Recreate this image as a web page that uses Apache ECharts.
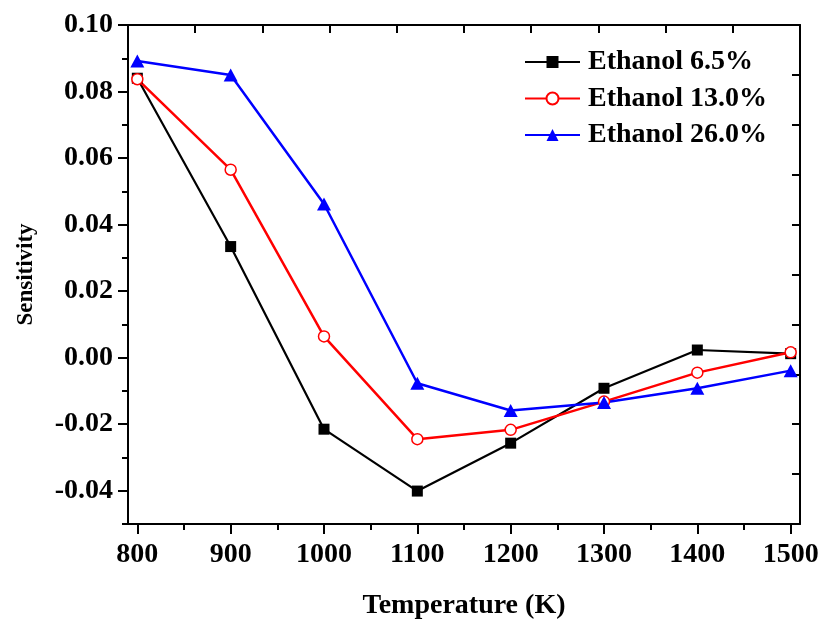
<!DOCTYPE html>
<html>
<head>
<meta charset="utf-8">
<script src="https://cdn.jsdelivr.net/npm/echarts@6/dist/echarts.min.js"></script>
<style>html,body{margin:0;padding:0;background:#fff}#c{width:824px;height:620px}</style>
</head>
<body>
<div id="c"></div>
<script>
const temperatures = [800, 900, 1000, 1100, 1200, 1300, 1400, 1500];
const ethanol65 = [0.0840, 0.0334, -0.0215, -0.0401, -0.0257, -0.0092, 0.0023, 0.0012];
const ethanol130 = [0.0837, 0.0565, 0.0064, -0.0245, -0.0217, -0.0132, -0.0045, 0.0016];
const ethanol260 = [0.0892, 0.0850, 0.0462, -0.0077, -0.0159, -0.0135, -0.0092, -0.0039];
const seriesNames = ['Ethanol 6.5%', 'Ethanol 13.0%', 'Ethanol 26.0%'];
const xMajorTicks = [800, 900, 1000, 1100, 1200, 1300, 1400, 1500];
const xMinorTicks = [850, 950, 1050, 1150, 1250, 1350, 1450];
const yMajorTicks = [-0.04, -0.02, 0.00, 0.02, 0.04, 0.06, 0.08, 0.10];
const yMinorTicks = [-0.05, -0.03, -0.01, 0.01, 0.03, 0.05, 0.07, 0.09];

const FONT = "'Liberation Serif', 'Times New Roman', serif";
const pair = (xs, ys) => xs.map((x, i) => [x, ys[i]]);

const chart = echarts.init(document.getElementById('c'), null, {renderer: 'canvas'});
chart.setOption({
  animation: false,
  backgroundColor: '#fff',
  grid: {left: 128, right: 24, top: 25, bottom: 96, containLabel: false, outerBoundsMode: 'none'},
  legend: {
    orient: 'vertical',
    left: 524, top: 48,
    padding: 0,
    itemWidth: 55, itemHeight: 15, itemGap: 8.5,
    textStyle: {fontFamily: FONT, fontWeight: 'bold', fontSize: 28, color: '#000', lineHeight: 28, padding: [0, 0, 0, 3]},
    data: seriesNames
  },
  xAxis: [
    {
      type: 'value', position: 'bottom', min: 790, max: 1510,
      splitLine: {show: false},
      axisLine: {onZero: false, lineStyle: {color: '#000', width: 2}},
      axisTick: {customValues: xMajorTicks, length: 10, lineStyle: {color: '#000', width: 2}},
      axisLabel: {customValues: xMajorTicks, margin: 17, fontFamily: FONT, fontWeight: 'bold', fontSize: 28, color: '#000',
        formatter: v => String(v)},
      name: 'Temperature (K)', nameLocation: 'middle', nameGap: 68,
      nameTextStyle: {fontFamily: FONT, fontWeight: 'bold', fontSize: 28, color: '#000'}
    },
    {
      type: 'value', position: 'bottom', min: 790, max: 1510,
      splitLine: {show: false},
      axisLine: {show: false, onZero: false},
      axisTick: {customValues: xMinorTicks, length: 6, lineStyle: {color: '#000', width: 2}},
      axisLabel: {show: false}
    },
    {
      type: 'value', position: 'top', min: 0, max: 10, interval: 1,
      splitLine: {show: false},
      axisLine: {onZero: false, lineStyle: {color: '#000', width: 2}},
      axisTick: {inside: true, length: 8, lineStyle: {color: '#000', width: 2}},
      axisLabel: {show: false}
    }
  ],
  yAxis: [
    {
      type: 'value', position: 'left', min: -0.05, max: 0.10,
      splitLine: {show: false},
      axisLine: {onZero: false, lineStyle: {color: '#000', width: 2}},
      axisTick: {customValues: yMajorTicks, length: 10, lineStyle: {color: '#000', width: 2}},
      axisLabel: {customValues: yMajorTicks, margin: 15, fontFamily: FONT, fontWeight: 'bold', fontSize: 28, color: '#000',
        formatter: v => v.toFixed(2)},
      name: 'Sensitivity', nameLocation: 'middle', nameGap: 90, nameRotate: 90,
      nameTextStyle: {fontFamily: FONT, fontWeight: 'bold', fontSize: 23, color: '#000'}
    },
    {
      type: 'value', position: 'left', min: -0.05, max: 0.10,
      splitLine: {show: false},
      axisLine: {show: false, onZero: false},
      axisTick: {customValues: yMinorTicks, length: 6, lineStyle: {color: '#000', width: 2}},
      axisLabel: {show: false}
    },
    {
      type: 'value', position: 'right', min: 0, max: 10, interval: 1,
      splitLine: {show: false},
      axisLine: {onZero: false, lineStyle: {color: '#000', width: 2}},
      axisTick: {inside: true, length: 8, lineStyle: {color: '#000', width: 2}},
      axisLabel: {show: false}
    }
  ],
  series: [
    {
      name: seriesNames[0], type: 'line', xAxisIndex: 0, yAxisIndex: 0,
      data: pair(temperatures, ethanol65),
      symbol: 'rect', symbolSize: 11,
      lineStyle: {color: '#000', width: 2.2},
      itemStyle: {color: '#000'},
      emphasis: {disabled: true}
    },
    {
      name: seriesNames[1], type: 'line', xAxisIndex: 0, yAxisIndex: 0,
      data: pair(temperatures, ethanol130),
      symbol: 'circle', symbolSize: 11,
      lineStyle: {color: '#ff0000', width: 2.5},
      itemStyle: {color: '#fff', borderColor: '#ff0000', borderWidth: 1.5},
      emphasis: {disabled: true}
    },
    {
      name: seriesNames[2], type: 'line', xAxisIndex: 0, yAxisIndex: 0,
      data: pair(temperatures, ethanol260),
      symbol: 'triangle', symbolSize: [14, 13],
      lineStyle: {color: '#0000ff', width: 2.5},
      itemStyle: {color: '#0000ff'},
      emphasis: {disabled: true}
    }
  ]
});
</script>
</body>
</html>
